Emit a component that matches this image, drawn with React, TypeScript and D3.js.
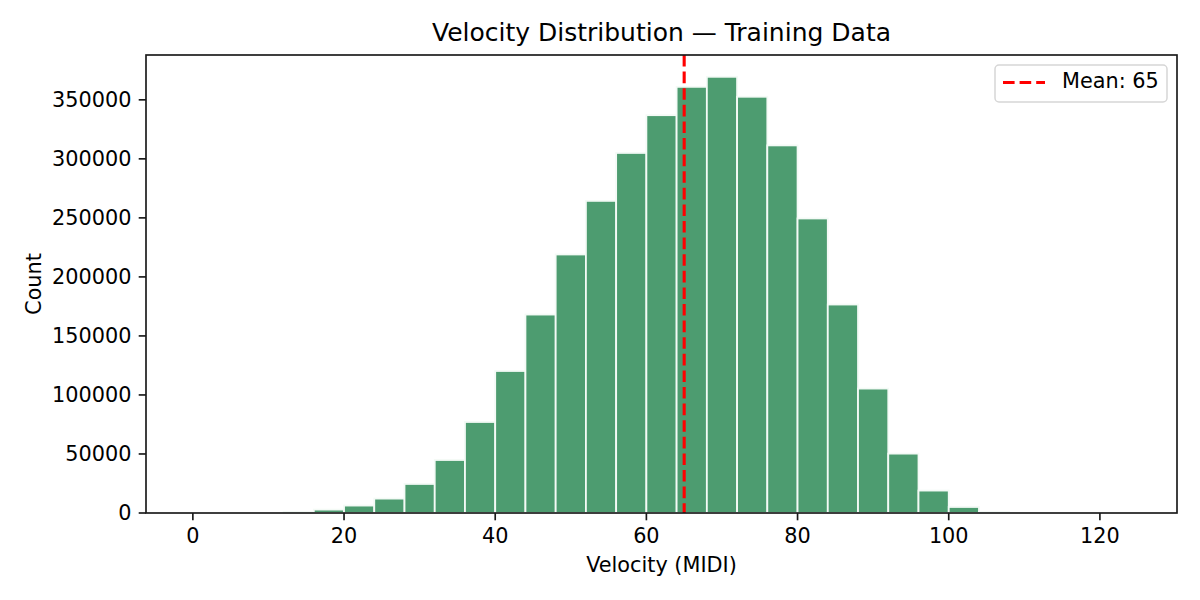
import React, { useEffect, useRef } from "react";
import * as d3 from "d3";

const binEdgesStart = d3.range(0, 124, 4); // 0,4,...,120
const binWidth = 4;
const counts = [
  0, 0, 0, 900, 2900, 6300, 12200, 24600, 44900, 77100, 120300, 168100, 219000,
  264400, 305000, 337000, 361000, 369500, 352600, 311400, 249500, 176600, 105400,
  50300, 19000, 5100, 800, 0, 0, 0, 0,
];
const xTicks = [0, 20, 40, 60, 80, 100, 120];
const yTicks = [0, 50000, 100000, 150000, 200000, 250000, 300000, 350000];
const meanValue = 65;
const titleText = "Velocity Distribution \u2014 Training Data";
const xLabel = "Velocity (MIDI)";
const yLabel = "Count";
const legendLabel = "Mean: 65";

const W = 1200;
const H = 600;
const M = { left: 146, right: 1177, top: 55, bottom: 513 };
const FONT = "'DejaVu Sans', sans-serif";
const FS = 20.8;
const TICK = 7.3;
const LW = 1.67;

export default function App() {
  const ref = useRef<SVGSVGElement | null>(null);

  useEffect(() => {
    const svg = d3.select(ref.current);
    svg.selectAll("*").remove();

    const dataMin = 0;
    const dataMax = 124;
    const pad = (dataMax - dataMin) * 0.05;
    const x = d3.scaleLinear().domain([dataMin - pad, dataMax + pad]).range([M.left, M.right]);
    const yMax = (d3.max(counts) as number) * 1.05;
    const y = d3.scaleLinear().domain([0, yMax]).range([M.bottom, M.top]);

    svg.append("rect").attr("width", W).attr("height", H).attr("fill", "white");

    const bins = binEdgesStart.map((s, i) => ({ x0: s, x1: s + binWidth, c: counts[i] }));
    svg
      .append("g")
      .selectAll("rect")
      .data(bins.filter((b) => b.c > 0))
      .join("rect")
      .attr("x", (d) => x(d.x0))
      .attr("width", (d) => x(d.x1) - x(d.x0))
      .attr("y", (d) => y(d.c))
      .attr("height", (d) => y(0) - y(d.c))
      .attr("fill", "#4D9C70")
      .attr("stroke", "#f4faf6")
      .attr("stroke-width", 1.8);

    // mean line
    svg
      .append("line")
      .attr("x1", x(meanValue))
      .attr("x2", x(meanValue))
      .attr("y1", M.top)
      .attr("y2", M.bottom)
      .attr("stroke", "#FF0000")
      .attr("stroke-width", 3.1)
      .attr("stroke-dasharray", "11.6,5");

    // spines
    svg
      .append("rect")
      .attr("x", M.left)
      .attr("y", M.top)
      .attr("width", M.right - M.left)
      .attr("height", M.bottom - M.top)
      .attr("fill", "none")
      .attr("stroke", "#1a1a1a")
      .attr("stroke-width", LW);

    // x ticks
    const gx = svg.append("g");
    xTicks.forEach((t) => {
      gx.append("line")
        .attr("x1", x(t))
        .attr("x2", x(t))
        .attr("y1", M.bottom)
        .attr("y2", M.bottom + TICK)
        .attr("stroke", "#1a1a1a")
        .attr("stroke-width", LW);
      gx.append("text")
        .attr("x", x(t))
        .attr("y", 542.7)
        .attr("text-anchor", "middle")
        .attr("font-family", FONT)
        .attr("font-size", FS)
        .attr("fill", "black")
        .text(String(t));
    });

    // y ticks
    const gy = svg.append("g");
    yTicks.forEach((t) => {
      gy.append("line")
        .attr("x1", M.left - TICK)
        .attr("x2", M.left)
        .attr("y1", y(t))
        .attr("y2", y(t))
        .attr("stroke", "#1a1a1a")
        .attr("stroke-width", LW);
      gy.append("text")
        .attr("x", M.left - 2 * TICK)
        .attr("y", y(t))
        .attr("dy", "0.36em")
        .attr("text-anchor", "end")
        .attr("font-family", FONT)
        .attr("font-size", FS)
        .attr("fill", "black")
        .text(String(t));
    });

    // labels
    svg
      .append("text")
      .attr("x", (M.left + M.right) / 2)
      .attr("y", 572.3)
      .attr("text-anchor", "middle")
      .attr("font-family", FONT)
      .attr("font-size", FS)
      .text(xLabel);
    svg
      .append("text")
      .attr("transform", `translate(40.7,${(M.top + M.bottom) / 2}) rotate(-90)`)
      .attr("text-anchor", "middle")
      .attr("font-family", FONT)
      .attr("font-size", FS)
      .text(yLabel);
    svg
      .append("text")
      .attr("x", (M.left + M.right) / 2)
      .attr("y", 40.7)
      .attr("text-anchor", "middle")
      .attr("font-family", FONT)
      .attr("font-size", 25)
      .text(titleText);

    // legend
    const lg = svg.append("g");
    lg.append("rect")
      .attr("x", 995)
      .attr("y", 65)
      .attr("width", 172)
      .attr("height", 37)
      .attr("rx", 4)
      .attr("fill", "white")
      .attr("fill-opacity", 0.8)
      .attr("stroke", "#d6d6d6")
      .attr("stroke-width", 1.5);
    lg.append("line")
      .attr("x1", 1003)
      .attr("x2", 1045)
      .attr("y1", 82.5)
      .attr("y2", 82.5)
      .attr("stroke", "#FF0000")
      .attr("stroke-width", 3.1)
      .attr("stroke-dasharray", "11.6,5");
    lg.append("text")
      .attr("x", 1062)
      .attr("y", 88)
      .attr("font-family", FONT)
      .attr("font-size", FS)
      .text(legendLabel);
  }, []);

  return (
    <svg
      ref={ref}
      width={W}
      height={H}
      style={{ position: "absolute", left: 0, top: 0 }}
    />
  );
}
